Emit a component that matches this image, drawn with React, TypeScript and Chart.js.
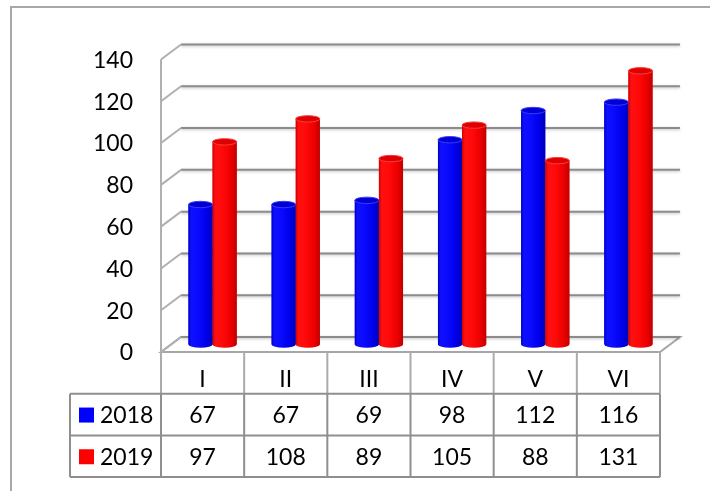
import React, { useEffect, useRef } from "react";
import { Chart, registerables } from "chart.js";

Chart.register(...registerables);

const categories = ["I", "II", "III", "IV", "V", "VI"];
const seriesNames = ["2018", "2019"];
const values2018 = [67, 67, 69, 98, 112, 116];
const values2019 = [97, 108, 89, 105, 88, 131];
const yTicks = [0, 20, 40, 60, 80, 100, 120, 140];

const seriesColors = ["#0000ff", "#ff0000"];
const DX = 10;
const DY = 7.5;
const FONT = "23px Lato, 'Open Sans', sans-serif";

const shades: Record<string, { stops: [number, string][]; cap: string; rim: string }> = {
  "#0000ff": {
    stops: [
      [0, "#0000c8"],
      [0.12, "#1010ff"],
      [0.4, "#0a0aff"],
      [0.75, "#0000ea"],
      [1, "#0000b4"],
    ],
    cap: "#0000d4",
    rim: "#3a3aff",
  },
  "#ff0000": {
    stops: [
      [0, "#d00000"],
      [0.12, "#ff1010"],
      [0.4, "#ff0a0a"],
      [0.75, "#ee0000"],
      [1, "#c00000"],
    ],
    cap: "#dd0000",
    rim: "#ff3a3a",
  },
};

const frame3d = {
  id: "frame3d",
  beforeDatasetsDraw(chart: any) {
    const { ctx, chartArea: a, scales } = chart;
    const y = scales.y;
    ctx.save();
    // outer frame
    ctx.strokeStyle = "#a8a8a8";
    ctx.lineWidth = 2;
    ctx.beginPath();
    ctx.moveTo(11, 491);
    ctx.lineTo(11, 7);
    ctx.lineTo(710, 7);
    ctx.stroke();

    const y0 = y.getPixelForValue(0);
    // floor
    ctx.beginPath();
    ctx.moveTo(a.left - DX, y0 + DY);
    ctx.lineTo(a.right - DX, y0 + DY);
    ctx.lineTo(a.right + DX, y0 - DY);
    ctx.lineTo(a.left + DX, y0 - DY);
    ctx.closePath();
    ctx.fillStyle = "#ffffff";
    ctx.fill();
    ctx.strokeStyle = "#a6a6a6";
    ctx.lineWidth = 2;
    ctx.stroke();

    // back wall gridlines
    ctx.save();
    ctx.shadowColor = "rgba(0,0,0,0.25)";
    ctx.shadowBlur = 3;
    ctx.shadowOffsetY = 1;
    ctx.strokeStyle = "#8c8c8c";
    ctx.lineWidth = 2;
    yTicks.forEach((t) => {
      const py = y.getPixelForValue(t) - DY;
      ctx.beginPath();
      ctx.moveTo(a.left + DX, py);
      ctx.lineTo(a.right + DX, py);
      ctx.stroke();
    });
    ctx.restore();

    // side diagonals
    ctx.strokeStyle = "#b0b0b0";
    ctx.lineWidth = 2;
    yTicks.forEach((t) => {
      const py = y.getPixelForValue(t);
      ctx.beginPath();
      ctx.moveTo(a.left - DX, py + DY);
      ctx.lineTo(a.left + DX, py - DY);
      ctx.stroke();
    });
    // front axis
    ctx.beginPath();
    ctx.moveTo(a.left - DX, y.getPixelForValue(0) + DY);
    ctx.lineTo(a.left - DX, y.getPixelForValue(yTicks[yTicks.length - 1]) + DY);
    ctx.stroke();

    // tick labels
    ctx.fillStyle = "#000";
    ctx.font = FONT;
    ctx.textAlign = "right";
    ctx.textBaseline = "middle";
    yTicks.forEach((t) => {
      ctx.fillText(String(t), a.left - DX - 28, y.getPixelForValue(t) + DY + 1);
    });
    ctx.restore();
  },
  afterDatasetsDraw(chart: any) {
    const { ctx } = chart;
    ctx.save();
    chart.data.datasets.forEach((ds: any, di: number) => {
      const meta = chart.getDatasetMeta(di);
      const sh = shades[ds.backgroundColor];
      meta.data.forEach((el: any) => {
        const { x, y, base, width } = el.getProps(["x", "y", "base", "width"], true);
        const r = width / 2;
        const ry = 3.2;
        const g = ctx.createLinearGradient(x - r, 0, x + r, 0);
        sh.stops.forEach(([o, c]) => g.addColorStop(o, c));
        ctx.fillStyle = g;
        ctx.beginPath();
        ctx.moveTo(x - r, y);
        ctx.lineTo(x - r, base);
        ctx.ellipse(x, base, r, ry, 0, Math.PI, 0, true);
        ctx.lineTo(x + r, y);
        ctx.closePath();
        ctx.fill();
        // cap
        ctx.beginPath();
        ctx.ellipse(x, y, r, ry, 0, 0, Math.PI * 2);
        ctx.fillStyle = sh.cap;
        ctx.fill();
        ctx.strokeStyle = sh.rim;
        ctx.lineWidth = 1;
        ctx.stroke();
      });
    });
    ctx.restore();
  },
  afterDraw(chart: any) {
    const { ctx, scales } = chart;
    const x = scales.x;
    const y = scales.y;
    const top = y.getPixelForValue(0) + DY;
    const rowH = 41.7;
    const cw = x.getPixelForValue(1) - x.getPixelForValue(0);
    const colLeft = x.getPixelForValue(0) - DX - cw / 2;
    const colRight = x.getPixelForValue(categories.length - 1) - DX + cw / 2;
    const tableLeft = 70;
    ctx.save();
    // header verticals
    ctx.lineWidth = 2;
    ctx.strokeStyle = "#ababab";
    for (let i = 0; i <= categories.length; i++) {
      const px = colLeft + i * cw;
      ctx.beginPath();
      ctx.moveTo(px, top);
      ctx.lineTo(px, top + rowH);
      ctx.stroke();
    }
    ctx.strokeStyle = "#8f8f8f";
    for (let i = 0; i <= categories.length; i++) {
      const px = colLeft + i * cw;
      ctx.beginPath();
      ctx.moveTo(px, top + rowH);
      ctx.lineTo(px, top + 3 * rowH);
      ctx.stroke();
    }
    ctx.beginPath();
    ctx.moveTo(tableLeft, top + rowH);
    ctx.lineTo(tableLeft, top + 3 * rowH);
    ctx.stroke();
    for (let r = 1; r <= 3; r++) {
      ctx.beginPath();
      ctx.moveTo(tableLeft, top + r * rowH);
      ctx.lineTo(colRight, top + r * rowH);
      ctx.stroke();
    }
    ctx.fillStyle = "#000";
    ctx.font = FONT;
    ctx.textAlign = "center";
    ctx.textBaseline = "middle";
    categories.forEach((c, i) => {
      const cx = x.getPixelForValue(i) - DX;
      ctx.fillText(c, cx, top + 28);
    });
    chart.data.datasets.forEach((ds: any, di: number) => {
      const rowMid = top + rowH * (di + 1) + rowH / 2 + 1;
      ds.data.forEach((v: number, i: number) => {
        const cx = x.getPixelForValue(i) - DX;
        ctx.textAlign = "center";
        ctx.fillStyle = "#000";
        ctx.fillText(String(v), cx, rowMid);
      });
      ctx.fillStyle = ds.backgroundColor;
      ctx.fillRect(tableLeft + 9, rowMid - 8, 15, 15);
      ctx.fillStyle = "#000";
      ctx.textAlign = "left";
      ctx.fillText(ds.label, tableLeft + 30, rowMid);
    });
    ctx.restore();
  },
};

export default function App() {
  const ref = useRef<HTMLCanvasElement>(null);
  useEffect(() => {
    if (!ref.current) return;
    const chart = new Chart(ref.current, {
      type: "bar",
      data: {
        labels: categories,
        datasets: [
          { label: seriesNames[0], data: values2018, backgroundColor: seriesColors[0] },
          { label: seriesNames[1], data: values2019, backgroundColor: seriesColors[1] },
        ],
      },
      options: {
        responsive: false,
        animation: false,
        devicePixelRatio: 1,
        layout: { padding: { left: 171, right: 40, top: 52, bottom: 146.5 } },
        datasets: { bar: { categoryPercentage: 0.58, barPercentage: 1 } },
        plugins: { legend: { display: false }, tooltip: { enabled: false }, title: { display: false } },
        scales: {
          x: { display: false, offset: true },
          y: { display: false, min: 0, max: 140, ticks: { stepSize: 20 } },
        },
      },
      plugins: [frame3d],
    });
    return () => chart.destroy();
  }, []);
  return (
    <div style={{ position: "absolute", left: 0, top: 0, width: 710, height: 491, background: "#fff" }}>
      <canvas ref={ref} width={710} height={491} />
    </div>
  );
}
